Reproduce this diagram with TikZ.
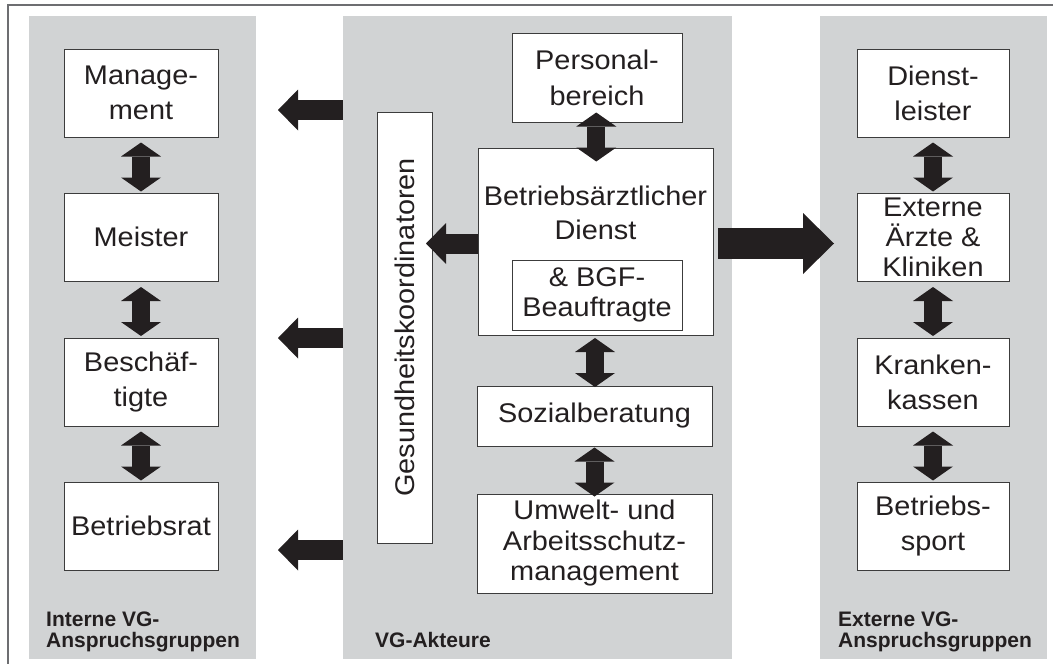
\documentclass[tikz,border=0pt]{standalone}
\usepackage{fontspec}
\setmainfont{Liberation Sans}
\newfontfamily\boxfont{Liberation Sans}[FakeStretch=1.07]
\usetikzlibrary{arrows.meta,calc}
\definecolor{panelgray}{HTML}{D1D3D4}
\definecolor{ink}{HTML}{231F20}
\definecolor{edgec}{HTML}{3C3C3C}
\definecolor{framec}{HTML}{6D6E71}
\newcommand\dblconn[2]{\draw[dblarrow] ($(#1.south)!0.5!(#2.north)+(0,-22.5)$) -- ($(#1.south)!0.5!(#2.north)+(0,26.5)$);}
\begin{document}
\begin{tikzpicture}[x=1pt,y=-1pt,
 panel/.style={fill=panelgray, draw=none, inner sep=0pt, outer sep=0pt},
 box/.style={draw=edgec, line width=0.9pt, fill=white, inner sep=0pt, outer sep=0pt, align=center, text=ink, font=\boxfont\fontsize{27}{35}\selectfont},
 plaintext/.style={inner sep=0pt, align=center, text=ink, font=\boxfont\fontsize{27}{33.5}\selectfont},
 dblarrow/.style={draw=ink, line width=18pt, {Triangle[width=40pt,length=14pt,line width=0pt]}-{Triangle[width=40pt,length=14pt,line width=0pt]}},
 leftarrow/.style={draw=ink, line width=20pt, -{Triangle[width=41pt,length=20pt,line width=0pt]}},
 bigarrow/.style={draw=ink, line width=31pt, -{Triangle[width=61pt,length=31pt,line width=0pt]}},
 grouplabel/.style={inner sep=0pt, align=left, text=ink, font=\bfseries\fontsize{21}{21.5}\selectfont},
]
\useasboundingbox (0,0) rectangle (1053,664);
\clip (0,0) rectangle (1053,664);
% outer frame
\draw[framec, line width=1.5pt] (8,5) rectangle (1080,690);
% panels
\node[panel, minimum width=227pt, minimum height=643pt] (pleft) at (142.5,337.5) {};
\node[panel, minimum width=389pt, minimum height=643pt] (pmid) at (537.5,337.5) {};
\node[panel, minimum width=227pt, minimum height=643pt] (pright) at (933.5,337.5) {};
% internal stakeholders
\node[box, minimum width=154pt, minimum height=88pt] (mgmt) at (141,93) {Manage-\\ment};
\node[box, minimum width=154pt, minimum height=88pt] (meister) at (141,237) {Meister};
\node[box, minimum width=154pt, minimum height=88pt] (besch) at (141,382) {Beschäf-\\tigte};
\node[box, minimum width=154pt, minimum height=88pt] (brat) at (141,526) {Betriebsrat};
% external stakeholders
\node[box, minimum width=152pt, minimum height=88pt] (dienst) at (933,93) {Dienst-\\leister};
\node[box, minimum width=152pt, minimum height=88pt, font=\boxfont\fontsize{27}{30}\selectfont] (ext) at (933,237) {Externe\\Ärzte \&\\Kliniken};
\node[box, minimum width=152pt, minimum height=88pt] (kk) at (933,382) {Kranken-\\kassen};
\node[box, minimum width=152pt, minimum height=88pt] (sport) at (933,526) {Betriebs-\\sport};
% actors
\node[box, minimum width=170pt, minimum height=89pt, font=\boxfont\fontsize{27}{36}\selectfont] (pers) at (597,77.5) {Personal-\\bereich};
\node[box, minimum width=235pt, minimum height=187pt] (betr) at (595.5,241.5) {};
\node[plaintext] (betrtext) at (595.5,213) {Betriebsärztlicher\\Dienst};
\node[box, minimum width=170pt, minimum height=70pt, font=\boxfont\fontsize{27}{30}\selectfont] (bgf) at (597,295) {\& BGF-\\Beauftragte};
\node[box, minimum width=235pt, minimum height=60pt] (sozial) at (594.5,416) {Sozialberatung};
\node[box, minimum width=235pt, minimum height=99pt, font=\boxfont\fontsize{27}{30.5}\selectfont] (umwelt) at (594.5,543.5) {Umwelt- und\\Arbeitsschutz-\\management};
\node[box, rotate=90, minimum width=431pt, minimum height=55pt] (gesund) at (404.5,327.5) {Gesundheitskoordinatoren};
% group labels
\node[grouplabel, anchor=south west] (lint) at (46,652.5) {Interne VG-\\Anspruchsgruppen};
\node[grouplabel, anchor=base west] (lmid) at (375,647) {VG-Akteure};
\node[grouplabel, anchor=south west] (lext) at (838,652.5) {Externe VG-\\Anspruchsgruppen};
% vertical double arrows
\dblconn{mgmt}{meister}
\dblconn{meister}{besch}
\dblconn{besch}{brat}
\dblconn{dienst}{ext}
\dblconn{ext}{kk}
\dblconn{kk}{sport}
\dblconn{pers}{betr}
\dblconn{betr}{sozial}
\dblconn{sozial}{umwelt}
% left-pointing arrows to internal stakeholders
\coordinate (l1) at (278,110);
\coordinate (l2) at (278,338);
\coordinate (l3) at (278,550);
\draw[leftarrow] (pmid.west |- l1) -- (l1);
\draw[leftarrow] (pmid.west |- l2) -- (l2);
\draw[leftarrow] (pmid.west |- l3) -- (l3);
% arrow to coordinators
\coordinate (gk) at (426,243.5);
\draw[leftarrow] (betr.west |- gk) -- (gk);
% big arrow to external stakeholders
\coordinate (bk) at (834,243.5);
\draw[bigarrow] ($(betr.east |- bk)+(5,0)$) -- (bk);
\end{tikzpicture}
\end{document}
